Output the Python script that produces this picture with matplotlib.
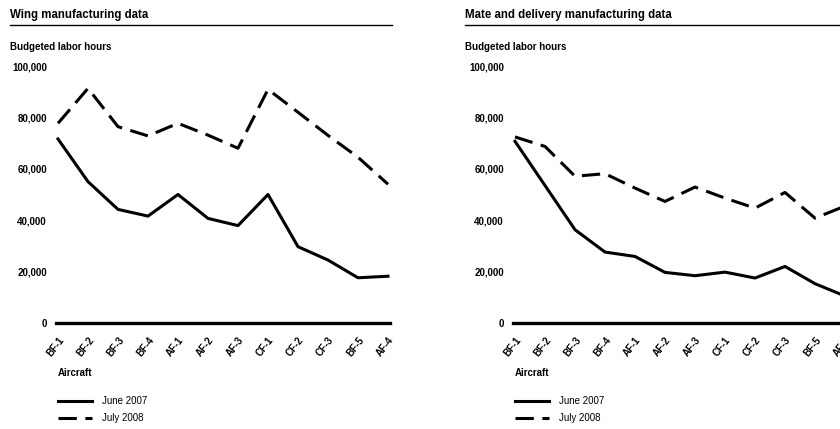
import matplotlib.pyplot as plt
from matplotlib.lines import Line2D

plt.rcParams['font.family'] = ['Liberation Sans', 'DejaVu Sans']

# Datos
aircraft = ['BF-1', 'BF-2', 'BF-3', 'BF-4', 'AF-1', 'AF-2',
            'AF-3', 'CF-1', 'CF-2', 'CF-3', 'BF-5', 'AF-4']

wing_june2007 = [71600, 55000, 44200, 41600, 50000, 40700,
                 37900, 50000, 29700, 24500, 17600, 18200]
wing_july2008 = [77700, 91300, 76400, 72800, 77700, 73100,
                 68000, 90900, 82000, 73000, 64500, 54000]

mate_june2007 = [70700, 53500, 36300, 27600, 25900, 19700,
                 18400, 19800, 17500, 22000, 15300, 10500]
mate_july2008 = [72400, 68700, 57100, 58100, 52500, 47300,
                 52900, 48600, 44700, 50800, 40800, 45500]

yticks = [0, 20000, 40000, 60000, 80000, 100000]
ytick_labels = ['0', '20,000', '40,000', '60,000', '80,000', '100,000']

W, H = 840, 429
fig = plt.figure(figsize=(W / 100, H / 100), dpi=100)


def px(x, y):
    # pixeles (desde arriba) a coordenadas de figura
    return x / W, 1 - y / H


def panel(x0, title_x, title, june, july):
    # titulo con subrayado
    fig.text(*px(title_x, 15), title, fontsize=8.3, fontweight='bold',
             va='center', ha='left')
    fig.add_artist(Line2D([title_x / W, (title_x + 382) / W], [1 - 25 / H] * 2,
                          color='black', lw=1.0))
    fig.text(*px(title_x, 47), 'Budgeted labor hours', fontsize=7,
             fontweight='bold', va='center', ha='left')

    ax = fig.add_axes([x0 / W, 1 - 323 / H, 330 / W, (323 - 66) / H])
    xs = list(range(len(aircraft)))
    ax.plot(xs, june, color='black', lw=2.2, solid_joinstyle='round',
            clip_on=False, label='June 2007')
    ax.plot(xs, july, color='black', lw=2.2, dashes=(6, 2.8),
            clip_on=False, label='July 2008')
    ax.axhline(0, color='black', lw=2.4, xmin=-0.005, xmax=1.005, clip_on=False)

    ax.set_xlim(0, len(aircraft) - 1)
    ax.set_ylim(0, 100000)
    ax.set_yticks(yticks)
    ax.set_yticklabels(ytick_labels, fontsize=7, fontweight='bold')
    ax.set_xticks(xs)
    ax.set_xticklabels(aircraft, fontsize=7, fontweight='bold', rotation=52,
                       ha='right', rotation_mode='anchor')
    ax.tick_params(axis='both', length=0)
    ax.tick_params(axis='y', pad=8)
    ax.tick_params(axis='x', pad=9)
    for s in ax.spines.values():
        s.set_visible(False)

    fig.text(*px(x0, 373), 'Aircraft', fontsize=7, fontweight='bold',
             va='center', ha='left')
    ax.legend(loc='upper left', bbox_to_anchor=px(x0, 396),
              bbox_transform=fig.transFigure, frameon=False,
              fontsize=7, handlelength=3.5, handletextpad=1.0,
              borderpad=0, borderaxespad=0, labelspacing=0.75)
    return ax


panel(58, 10, 'Wing manufacturing data', wing_june2007, wing_july2008)
panel(515, 465, 'Mate and delivery manufacturing data',
      mate_june2007, mate_july2008)

fig.savefig('out.png', dpi=100, facecolor='white')
